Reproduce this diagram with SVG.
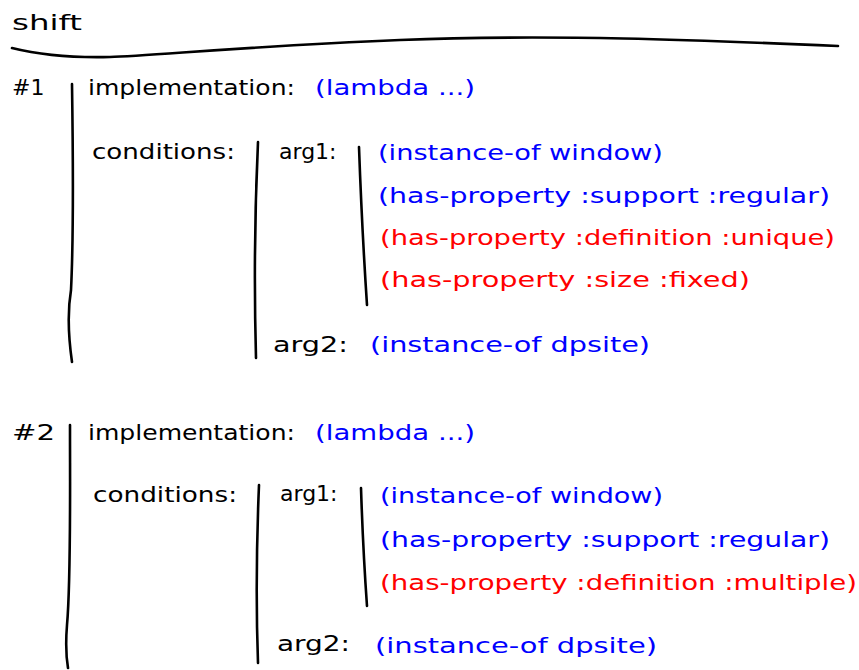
<svg xmlns="http://www.w3.org/2000/svg" width="859" height="670" viewBox="0 0 859 670">
<style>
text{font-family:"DejaVu Sans","Liberation Sans",sans-serif;font-size:22px;fill:#000}
.b{fill:#0000ff}
.r{fill:#ff0000}
.ln{fill:none;stroke:#000;stroke-width:2.6;stroke-linecap:round;stroke-linejoin:round}
</style>
<rect width="859" height="670" fill="#fff"/>
<g id="title">
<text x="12" y="30" textLength="70" lengthAdjust="spacingAndGlyphs">shift</text>
</g>
<g id="connectors">
<path class="ln" d="M12,48 C40,55 70,58 110,57 S250,46 400,40 S700,40 838,46"/>
<path class="ln" d="M72,84 C73,150 74,230 71,290 Q66,320 72,362"/>
<path class="ln" d="M258,142 Q253,250 256,358"/>
<path class="ln" d="M359,147 Q362,230 367,305"/>
<path class="ln" d="M70,425 C70,500 71,580 67,625 Q65,650 68,668"/>
<path class="ln" d="M259,485 Q255,580 258,663"/>
<path class="ln" d="M361,488 Q363,550 367,606"/>
</g>
<g id="rule1">
<text x="12" y="95">#1</text>
<text x="88" y="95" textLength="207" lengthAdjust="spacingAndGlyphs">implementation:</text>
<text class="b" x="315" y="95" textLength="160" lengthAdjust="spacingAndGlyphs">(lambda ...)</text>
<text x="92" y="159" textLength="143" lengthAdjust="spacingAndGlyphs">conditions:</text>
<text x="279" y="159">arg1:</text>
<text class="b" x="378" y="160" textLength="285" lengthAdjust="spacingAndGlyphs">(instance-of window)</text>
<text class="b" x="378" y="203" textLength="452" lengthAdjust="spacingAndGlyphs">(has-property :support :regular)</text>
<text class="r" x="380" y="245" textLength="455" lengthAdjust="spacingAndGlyphs">(has-property :definition :unique)</text>
<text class="r" x="380" y="287" textLength="370" lengthAdjust="spacingAndGlyphs">(has-property :size :fixed)</text>
<text x="273" y="352" textLength="75" lengthAdjust="spacingAndGlyphs">arg2:</text>
<text class="b" x="370" y="352" textLength="280" lengthAdjust="spacingAndGlyphs">(instance-of dpsite)</text>
</g>
<g id="rule2">
<text x="12" y="440" textLength="43" lengthAdjust="spacingAndGlyphs">#2</text>
<text x="88" y="440" textLength="207" lengthAdjust="spacingAndGlyphs">implementation:</text>
<text class="b" x="315" y="440" textLength="160" lengthAdjust="spacingAndGlyphs">(lambda ...)</text>
<text x="93" y="502" textLength="144" lengthAdjust="spacingAndGlyphs">conditions:</text>
<text x="280" y="501">arg1:</text>
<text class="b" x="380" y="503" textLength="283" lengthAdjust="spacingAndGlyphs">(instance-of window)</text>
<text class="b" x="380" y="547" textLength="450" lengthAdjust="spacingAndGlyphs">(has-property :support :regular)</text>
<text class="r" x="380" y="590" textLength="477" lengthAdjust="spacingAndGlyphs">(has-property :definition :multiple)</text>
<text x="277" y="651" textLength="73" lengthAdjust="spacingAndGlyphs">arg2:</text>
<text class="b" x="375" y="653" textLength="282" lengthAdjust="spacingAndGlyphs">(instance-of dpsite)</text>
</g>
</svg>
